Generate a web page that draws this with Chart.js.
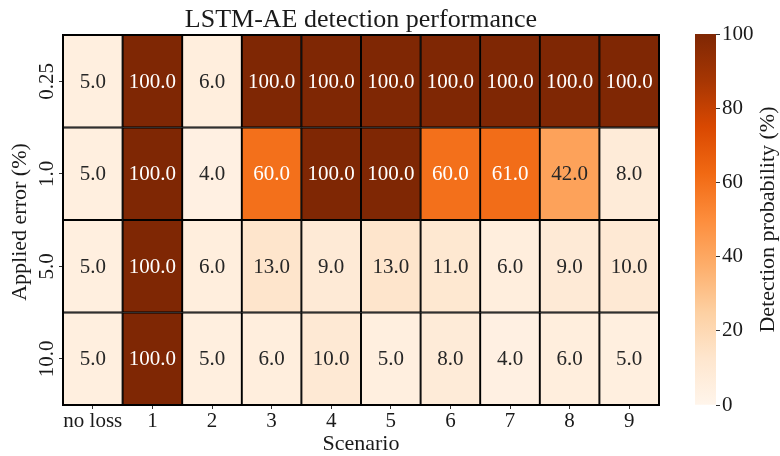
<!DOCTYPE html>
<html>
<head>
<meta charset="utf-8">
<script src="https://cdn.jsdelivr.net/npm/chart.js@4/dist/chart.umd.min.js"></script>
<style>
  html, body { margin: 0; padding: 0; background: #fff; }
  #wrap { position: relative; width: 780px; height: 456px; overflow: hidden; background: #fff; }
  #heat { position: absolute; left: 0; top: 0; }
  #cbar { position: absolute; left: 680px; top: 0; }
</style>
</head>
<body>
<div id="wrap">
  <canvas id="heat" width="680" height="456" style="width:680px;height:456px"></canvas>
  <canvas id="cbar" width="100" height="456" style="width:100px;height:456px"></canvas>
</div>
<script>
// Detection probability (%) per scenario, one array per applied error level
const scenarios = ['no loss', '1', '2', '3', '4', '5', '6', '7', '8', '9'];
const appliedErrors = ['0.25', '1.0', '5.0', '10.0'];
const detect025 = [5, 100, 6, 100, 100, 100, 100, 100, 100, 100];
const detect1   = [5, 100, 4, 60, 100, 100, 60, 61, 42, 8];
const detect5   = [5, 100, 6, 13, 9, 13, 11, 6, 9, 10];
const detect10  = [5, 100, 5, 6, 10, 5, 8, 4, 6, 5];
const colorbarTicks = [0, 20, 40, 60, 80, 100];

const rows = [detect025, detect1, detect5, detect10];
const FONT = "'Liberation Serif', 'DejaVu Serif', serif";
const INK = '#1a1a1a';

// "Oranges" colour ramp
const ORANGES = ['#fff5eb', '#fee6ce', '#fdd0a2', '#fdae6b', '#fd8d3c',
                 '#f16913', '#d94801', '#a63603', '#7f2704'];
function hexToRgb(h) {
  return [parseInt(h.slice(1, 3), 16), parseInt(h.slice(3, 5), 16), parseInt(h.slice(5, 7), 16)];
}
function oranges(t) {
  t = Math.max(0, Math.min(1, t));
  const pos = t * (ORANGES.length - 1);
  const i = Math.min(Math.floor(pos), ORANGES.length - 2);
  const f = pos - i;
  const a = hexToRgb(ORANGES[i]), b = hexToRgb(ORANGES[i + 1]);
  const c = a.map((v, k) => Math.round(v + (b[k] - v) * f));
  return `rgb(${c[0]},${c[1]},${c[2]})`;
}

// Each applied-error row becomes a band of floating bars spanning [row-0.5, row+0.5]
const datasets = rows.map((vals, r) => ({
  label: appliedErrors[r],
  data: vals.map(() => [r - 0.5, r + 0.5]),
  cellValues: vals,
  backgroundColor: vals.map(v => oranges(v / 100)),
  borderColor: '#000',
  borderWidth: 1.3,
  borderSkipped: false,
  grouped: false,
  barPercentage: 1,
  categoryPercentage: 1
}));

const heatDecor = {
  id: 'heatDecor',
  afterDatasetsDraw(chart) {
    const { ctx, chartArea: a, scales } = chart;
    ctx.save();
    // outer frame
    ctx.strokeStyle = '#000';
    ctx.lineWidth = 2;
    ctx.strokeRect(a.left, a.top, a.right - a.left, a.bottom - a.top);
    // cell annotations
    ctx.font = `21px ${FONT}`;
    ctx.textAlign = 'center';
    ctx.textBaseline = 'middle';
    chart.data.datasets.forEach((ds, di) => {
      chart.getDatasetMeta(di).data.forEach((el, i) => {
        const v = ds.cellValues[i];
        const p = el.getCenterPoint();
        ctx.fillStyle = v > 50 ? '#ffffff' : '#262626';
        ctx.fillText(v.toFixed(1), p.x, p.y + 1);
      });
    });
    // rotated y tick labels
    ctx.fillStyle = INK;
    scales.y.ticks.forEach((t, i) => {
      const y = scales.y.getPixelForValue(t.value);
      ctx.save();
      ctx.translate(a.left - 16, y);
      ctx.rotate(-Math.PI / 2);
      ctx.fillText(appliedErrors[i], 0, 0);
      ctx.restore();
    });
    // axis titles
    ctx.font = `22px ${FONT}`;
    ctx.save();
    ctx.translate(20, (a.top + a.bottom) / 2 + 2);
    ctx.rotate(-Math.PI / 2);
    ctx.fillText('Applied error (%)', 0, 0);
    ctx.restore();
    ctx.fillText('Scenario', (a.left + a.right) / 2, 444);
    // chart title
    ctx.font = `26px ${FONT}`;
    ctx.fillText('LSTM-AE detection performance', (a.left + a.right) / 2, 20);
    ctx.restore();
  }
};

new Chart(document.getElementById('heat'), {
  type: 'bar',
  data: { labels: scenarios, datasets },
  options: {
    responsive: false,
    animation: false,
    layout: { padding: { top: 35, right: 21, left: 0, bottom: 0 } },
    plugins: { legend: { display: false }, tooltip: { enabled: false }, title: { display: false } },
    scales: {
      x: {
        type: 'category',
        offset: true,
        grid: { offset: false, drawOnChartArea: false, drawTicks: true, tickLength: 4, color: '#333' },
        border: { display: false },
        ticks: { font: { family: FONT, size: 21 }, color: INK, padding: 0, maxRotation: 0, autoSkip: false },
        afterFit(s) { s.height = 51; }
      },
      y: {
        type: 'linear',
        min: -0.5,
        max: 3.5,
        reverse: true,
        afterBuildTicks(s) { s.ticks = appliedErrors.map((_, i) => ({ value: i })); },
        ticks: { callback: () => '' },
        grid: { drawOnChartArea: false, drawTicks: true, tickLength: 4, color: '#333' },
        border: { display: false },
        afterFit(s) { s.width = 63; }
      }
    }
  },
  plugins: [heatDecor]
});

// Colour bar: one floating bar from 0 to 100 filled with the same ramp
const cbTitle = {
  id: 'cbTitle',
  afterDraw(chart) {
    const { ctx, chartArea: a } = chart;
    ctx.save();
    ctx.fillStyle = INK;
    ctx.font = `22px ${FONT}`;
    ctx.textAlign = 'center';
    ctx.textBaseline = 'middle';
    ctx.translate(88, (a.top + a.bottom) / 2);
    ctx.rotate(-Math.PI / 2);
    ctx.fillText('Detection probability (%)', 0, 0);
    ctx.restore();
  }
};

new Chart(document.getElementById('cbar'), {
  type: 'bar',
  data: {
    labels: [''],
    datasets: [{
      data: [[colorbarTicks[0], colorbarTicks[colorbarTicks.length - 1]]],
      backgroundColor(c) {
        const { ctx, chartArea } = c.chart;
        if (!chartArea) return ORANGES[4];
        const g = ctx.createLinearGradient(0, chartArea.bottom, 0, chartArea.top);
        ORANGES.forEach((col, i) => g.addColorStop(i / (ORANGES.length - 1), col));
        return g;
      },
      borderWidth: 0,
      barPercentage: 1,
      categoryPercentage: 1
    }]
  },
  options: {
    responsive: false,
    animation: false,
    layout: { padding: { left: 15, top: 34, bottom: 51, right: 0 } },
    plugins: { legend: { display: false }, tooltip: { enabled: false } },
    scales: {
      x: { display: false },
      y: {
        position: 'right',
        min: colorbarTicks[0],
        max: colorbarTicks[colorbarTicks.length - 1],
        afterBuildTicks(s) { s.ticks = colorbarTicks.map(v => ({ value: v })); },
        ticks: { font: { family: FONT, size: 21 }, color: INK, padding: 2 },
        grid: { drawOnChartArea: false, drawTicks: true, tickLength: 4, color: '#333' },
        border: { display: false },
        afterFit(s) { s.width = 64; }
      }
    }
  },
  plugins: [cbTitle]
});
</script>
</body>
</html>
